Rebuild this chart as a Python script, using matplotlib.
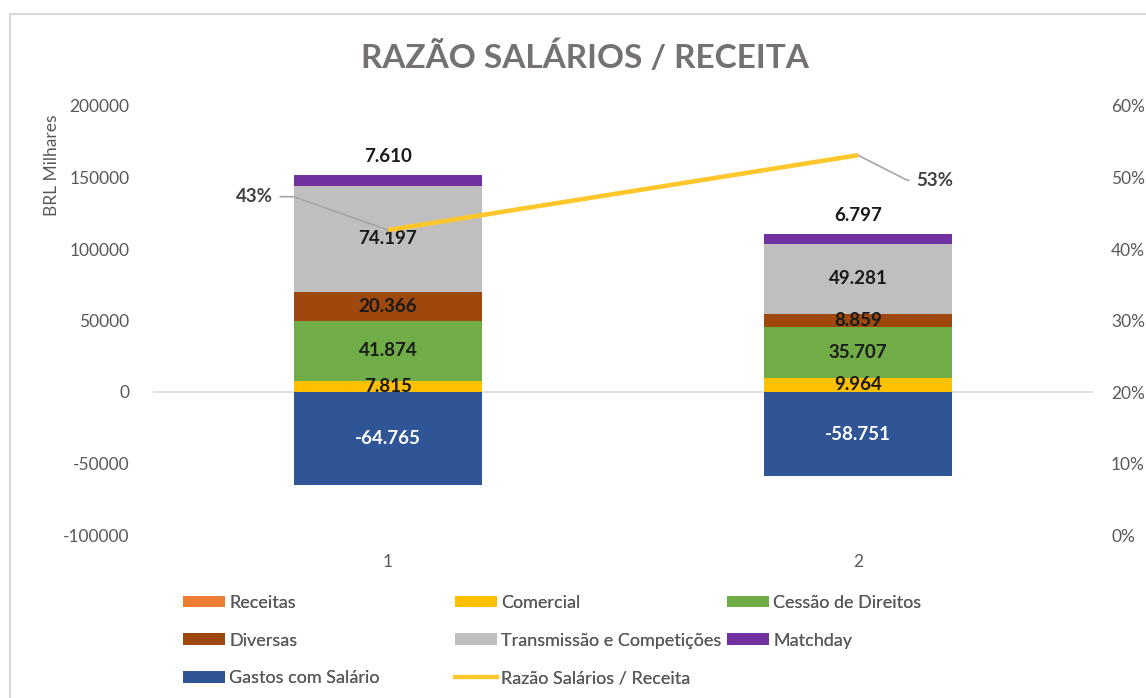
import matplotlib
matplotlib.use("Agg")
import matplotlib.pyplot as plt
from matplotlib.patches import Patch, Rectangle
from matplotlib.lines import Line2D
from matplotlib.ticker import FuncFormatter, PercentFormatter
import numpy as np

plt.rcParams['font.family'] = ['Lato', 'DejaVu Sans']

categories = ["1", "2"]
receitas = [0, 0]
comercial = [7815, 9964]
cessao = [41874, 35707]
diversas = [20366, 8859]
transmissao = [74197, 49281]
matchday = [7610, 6797]
gastos = [-64765, -58751]
razao = [0.4265, 0.5312]

colors = {
    "Receitas": "#ED7D31",
    "Comercial": "#FFC000",
    "Cessão de Direitos": "#70AD47",
    "Diversas": "#9E480E",
    "Transmissão e Competições": "#BFBFBF",
    "Matchday": "#7030A0",
    "Gastos com Salário": "#2F5597",
    "Razão Salários / Receita": "#FFC72C",
}

W, H = 1146, 698
fig = plt.figure(figsize=(W / 100, H / 100), dpi=100)
fig.patch.set_facecolor("white")

def fx(px):
    return px / W

def fy(py):
    return 1 - py / H

ax = fig.add_axes([fx(153), fy(535), fx(1093) - fx(153), fy(106) - fy(535)])
x = np.arange(1, len(categories) + 1)
bw = 0.40

def fmt(v):
    return f"{v:,}".replace(",", ".")

LBL = 13.5
# negative stack
ax.bar(x, gastos, bw, color=colors["Gastos com Salário"], zorder=2)
# positive stack
bottom = np.zeros(len(x))
stack = [("Receitas", receitas), ("Comercial", comercial), ("Cessão de Direitos", cessao),
         ("Diversas", diversas), ("Transmissão e Competições", transmissao), ("Matchday", matchday)]
for name, vals in stack:
    vals = np.array(vals, dtype=float)
    ax.bar(x, vals, bw, bottom=bottom, color=colors[name], zorder=2)
    for xi, b, v in zip(x, bottom, vals):
        if v == 0:
            continue
        if name == "Matchday":
            ax.annotate(fmt(int(v)), (xi, b + v), xytext=(0, 13), textcoords="offset points",
                        ha="center", va="center", fontsize=LBL, fontweight="bold", color="#1a1a1a")
        else:
            ax.text(xi, b + v / 2, fmt(int(v)), ha="center", va="center",
                    fontsize=LBL, fontweight="bold", color="#1a1a1a", zorder=3)
    bottom = bottom + vals
for xi, v in zip(x, gastos):
    ax.text(xi, v / 2, fmt(v), ha="center", va="center", fontsize=LBL,
            fontweight="bold", color="white", zorder=3)

ax.set_xlim(0.5, 2.5)
ax.set_ylim(-100000, 200000)
ax.set_yticks(np.arange(-100000, 200001, 50000))
ax.yaxis.set_major_formatter(FuncFormatter(lambda v, p: f"{int(v)}"))
ax.set_xticks(x)
ax.set_xticklabels(categories)
for s in ax.spines.values():
    s.set_visible(False)
ax.axhline(0, color="#D9D9D9", lw=1.2, zorder=1)
ax.tick_params(axis="y", length=0, pad=17, labelsize=12.5, labelcolor="#595959")
ax.tick_params(axis="x", length=0, pad=14, labelsize=12.5, labelcolor="#595959")

ax2 = ax.twinx()
ax2.set_ylim(0, 0.6)
ax2.set_yticks(np.arange(0, 0.61, 0.1))
ax2.yaxis.set_major_formatter(PercentFormatter(1.0, decimals=0))
for s in ax2.spines.values():
    s.set_visible(False)
ax2.tick_params(axis="y", length=0, pad=13, labelsize=12.5, labelcolor="#595959")
ax2.plot(x, razao, color=colors["Razão Salários / Receita"], lw=3.3, zorder=5,
         solid_capstyle="butt")

label_cfg = [((-96, 24), -19.5), ((55, -18), -27)]
for xi, v, (off, angB) in zip(x, razao, label_cfg):
    ax2.annotate(f"{v:.0%}", (xi, v), xytext=off, textcoords="offset points",
                 ha="center", va="center", fontsize=13.5, fontweight="bold", color="#404040",
                 arrowprops=dict(arrowstyle="-", color="#A6A6A6", lw=1.2,
                                 shrinkA=3, shrinkB=0,
                                 connectionstyle=f"angle,angleA=0,angleB={angB},rad=0"))

fig.text(fx(585), fy(57), "RAZÃO SALÁRIOS / RECEITA", ha="center", va="center",
         fontsize=24, fontweight="bold", color="#767171")
fig.text(fx(52), fy(165), "BRL Milhares", rotation=90, ha="center", va="center",
         fontsize=12.5, color="#595959")

# border
fig.add_artist(Rectangle((fx(10), -0.1), 2, fy(14) + 0.1, transform=fig.transFigure,
                         fill=False, edgecolor="#D9D9D9", lw=1.5))

def handle(name):
    if name == "Razão Salários / Receita":
        return Line2D([0], [0], color=colors[name], lw=3)
    return Patch(facecolor=colors[name], edgecolor="none")

columns = [
    (["Receitas", "Diversas", "Gastos com Salário"], 183),
    (["Comercial", "Transmissão e Competições", "Razão Salários / Receita"], 455),
    (["Cessão de Direitos", "Matchday"], 727),
]
for names, xpos in columns:
    leg = fig.legend([handle(n) for n in names], names, loc="upper left",
                     bbox_to_anchor=(fx(xpos), fy(595)), frameon=False, borderpad=0,
                     borderaxespad=0, fontsize=13, handlelength=2.35, handleheight=0.62,
                     handletextpad=0.2, labelspacing=1.2, labelcolor="#595959")
    fig.add_artist(leg)

fig.savefig("out.png", dpi=100, facecolor="white")
